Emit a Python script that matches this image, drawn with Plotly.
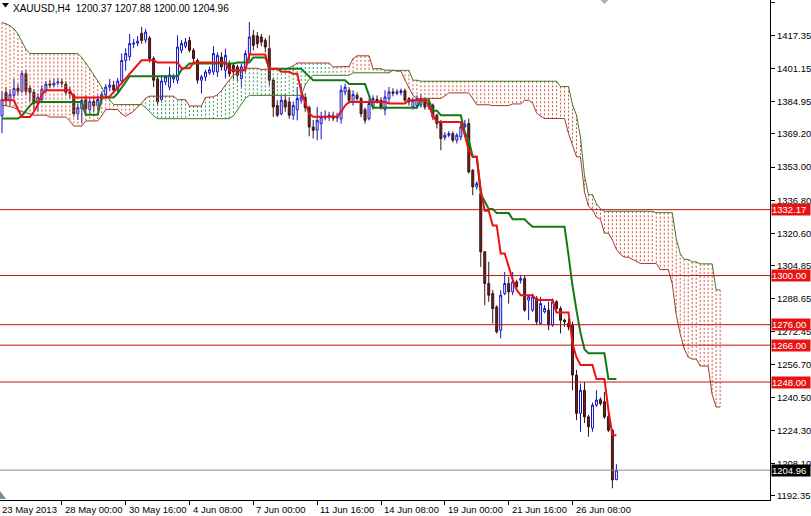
import plotly.graph_objects as go

# ---------------- data ----------------
open_ = [1378.0,1389.5,1385.6,1388.0,1391.3,1390.0,1398.6,1391.5,1389.5,1384.0,
 1386.0,1390.5,1393.5,1393.0,1394.0,1394.5,1393.5,1389.5,1388.0,1379.0,
 1381.5,1386.0,1381.0,1385.0,1383.0,1386.0,1388.0,1392.0,1393.0,1390.5,
 1395.0,1405.0,1407.0,1413.0,1413.5,1418.3,1415.0,1416.0,1406.0,1396.0,
 1386.0,1394.5,1392.0,1396.0,1395.4,1410.0,1412.0,1414.9,1410.0,1405.0,
 1395.4,1397.0,1399.0,1399.5,
 1399.4,1406.7,1400.2,1403.5,1402.7,1401.9,
 1396.2,1401.0,1408.4,1417.3,1417.0,1416.5,1414.9,1410.8,1395.4,1383.0,
 1379.0,1385.6,1384.8,1378.3,1381.0,1385.6,1387.0,1382.0,1372.5,1371.0,
 1374.2,1377.0,1377.4,1378.0,1377.0,1376.5,1389.6,1390.5,1384.8,1388.0,
 1386.4,1381.0,1376.6,1382.3,1386.0,1385.6,1381.0,1386.4,1389.7,1389.0,
 1389.4,1390.2,1386.4,1382.3,1383.0,1383.2,1385.6,1382.3,1383.2,1378.3,
 1375.0,1367.5,1368.5,1369.3,1366.1,1367.7,1372.6,1374.2,1351.4,1343.3,
 1340.0,1311.6,1296.1,1291.2,1284.7,1273.3,1291.2,1296.1,1292.0,1296.9,
 1297.7,1298.5,1288.0,1283.1,1288.8,1276.6,1282.3,1283.1,1275.8,1287.2,
 1283.9,1278.2,1276.6,1275.8,1251.4,1232.7,1244.0,1231.0,1225.5,1236.7,
 1239.5,1238.4,1231.0,1224.5,1200.37]

high = [1390.0,1392.0,1391.0,1396.0,1393.5,1400.0,1400.5,1393.0,1391.0,1389.0,
 1393.0,1395.0,1395.5,1396.0,1396.5,1396.0,1395.0,1392.0,1389.0,1384.0,
 1386.5,1388.0,1387.0,1387.0,1388.0,1390.0,1393.5,1396.0,1395.0,1396.5,
 1408.4,1411.0,1418.0,1415.5,1417.0,1421.4,1420.5,1417.0,1407.0,1397.0,
 1397.8,1398.0,1402.0,1398.5,1417.3,1415.0,1416.0,1416.5,1411.0,1406.0,
 1398.0,1400.5,1402.0,1412.0,
 1409.0,1409.0,1410.8,1405.0,1404.0,1403.0,
 1403.5,1410.0,1423.8,1420.0,1419.0,1418.0,1416.0,1417.3,1396.5,1385.6,
 1388.0,1388.5,1387.2,1385.0,1392.1,1392.9,1389.0,1383.0,1376.0,1382.3,
 1380.0,1380.7,1380.0,1380.0,1379.5,1392.9,1393.7,1392.0,1390.5,1389.5,
 1387.2,1382.0,1386.4,1388.0,1388.0,1387.0,1390.5,1392.1,1391.5,1391.0,
 1391.3,1391.3,1387.2,1387.0,1388.0,1388.5,1387.0,1386.0,1384.0,1379.0,
 1376.0,1370.0,1370.5,1370.5,1369.5,1374.2,1376.0,1376.6,1352.0,1346.0,
 1343.3,1312.0,1306.7,1292.9,1285.5,1292.9,1301.8,1299.4,1301.8,1298.0,
 1300.2,1300.0,1290.4,1291.2,1290.0,1289.6,1285.5,1287.2,1288.8,1288.0,
 1285.0,1279.0,1279.0,1277.4,1254.0,1247.3,1248.0,1232.0,1238.0,1244.0,
 1240.5,1243.2,1234.3,1225.0,1207.88]

low = [1369.5,1383.0,1383.0,1386.4,1388.0,1389.0,1388.0,1385.0,1381.0,1380.0,
 1385.0,1389.0,1391.5,1392.0,1393.0,1392.0,1388.0,1386.5,1377.5,1376.0,
 1374.2,1378.0,1378.5,1380.0,1381.0,1384.0,1386.5,1390.0,1389.0,1389.0,
 1393.7,1400.0,1405.0,1411.0,1412.0,1413.2,1413.5,1404.0,1392.0,1383.0,
 1384.5,1393.0,1390.5,1394.0,1393.7,1408.5,1411.0,1409.0,1404.0,1393.7,
 1388.9,1395.0,1398.0,1398.0,
 1397.0,1400.0,1396.2,1397.0,1396.0,1395.0,
 1392.1,1399.0,1405.0,1410.0,1411.0,1412.0,1409.0,1393.0,1377.4,1377.4,
 1378.3,1380.0,1376.6,1376.0,1375.8,1384.0,1380.0,1368.0,1366.9,1366.0,
 1366.5,1375.8,1375.5,1375.5,1375.0,1374.2,1388.0,1384.0,1383.0,1385.0,
 1377.4,1374.2,1375.8,1381.0,1384.0,1381.0,1378.3,1384.0,1387.5,1388.0,
 1388.0,1384.8,1383.0,1381.0,1381.5,1382.0,1381.0,1381.0,1376.0,1371.8,
 1361.2,1366.0,1367.5,1365.0,1364.5,1366.1,1371.8,1349.8,1339.2,1342.0,
 1304.2,1285.5,1287.2,1276.6,1271.7,1269.3,1290.4,1286.3,1290.4,1293.0,
 1296.1,1282.3,1278.2,1282.3,1275.8,1275.8,1281.5,1273.3,1275.0,1282.0,
 1271.7,1275.0,1273.3,1244.0,1229.4,1223.7,1228.0,1221.3,1223.7,1235.8,
 1236.5,1230.0,1223.6,1196.1,1200.00]

close = [1386.0,1385.6,1388.5,1391.3,1390.0,1398.6,1390.0,1389.5,1384.0,1387.0,
 1391.0,1393.5,1393.0,1394.0,1394.5,1394.0,1389.5,1389.0,1379.0,1382.0,
 1385.5,1381.5,1385.0,1383.0,1386.0,1388.5,1392.0,1393.0,1390.5,1395.0,
 1405.0,1408.4,1413.3,1413.5,1414.5,1414.8,1418.9,1406.0,1395.4,1384.8,
 1395.0,1397.0,1398.0,1397.0,1411.6,1413.3,1414.0,1410.0,1406.0,1395.4,
 1397.0,1399.4,1400.5,1408.4,
 1407.5,1401.9,1407.5,1398.6,1399.4,1397.8,
 1401.9,1408.4,1416.5,1412.4,1413.2,1414.0,1411.6,1395.4,1382.3,1378.3,
 1385.6,1382.3,1378.3,1383.0,1386.4,1387.2,1382.0,1372.5,1371.0,1375.8,
 1377.4,1377.4,1378.3,1376.8,1377.8,1390.5,1392.0,1385.6,1388.5,1386.4,
 1379.0,1375.8,1384.0,1386.4,1385.0,1382.3,1387.2,1389.7,1389.0,1389.7,
 1390.2,1385.6,1384.8,1385.6,1386.4,1386.4,1382.3,1384.0,1377.5,1374.2,
 1366.9,1368.5,1369.3,1366.1,1368.5,1372.6,1373.9,1350.6,1343.3,1344.9,
 1311.6,1296.1,1290.4,1283.9,1272.5,1290.4,1296.1,1292.0,1296.9,1294.5,
 1298.5,1283.1,1289.6,1289.6,1277.4,1286.3,1283.9,1275.8,1287.2,1283.9,
 1278.2,1277.4,1274.9,1251.4,1232.7,1244.0,1231.0,1226.2,1236.7,1239.2,
 1237.5,1231.0,1224.5,1200.2,1204.96]

tenkan = [1385.6,1385.6,1385.6,1385.6,1381.0,1377.4,1377.4,1377.4,1380.0,1383.5,
 1388.5,1390.5,1390.5,1390.5,1390.5,1390.5,1390.5,1390.5,1387.0,1387.0,
 1387.0,1387.0,1387.0,1387.0,1387.0,1387.0,1387.0,1387.5,1389.5,1391.5,
 1394.0,1396.3,1398.5,1400.2,1402.5,1405.1,1405.1,1405.1,1405.1,1404.0,
 1404.0,1404.0,1404.0,1404.0,1404.0,1401.2,1401.2,1401.2,1404.0,1404.0,
 1404.0,1404.0,1404.0,1404.0,1404.0,1404.0,1404.0,1400.2,1400.2,1400.2,
 1400.2,1400.2,1408.0,1408.0,1408.0,1408.0,1408.0,1401.0,1401.0,1401.0,
 1399.5,1399.5,1399.5,1398.5,1398.5,1390.0,1384.0,1379.0,1377.5,1377.5,
 1377.5,1377.5,1377.5,1377.5,1377.5,1380.0,1383.0,1384.8,1384.8,1384.8,
 1384.8,1384.8,1384.8,1384.8,1384.8,1384.8,1384.8,1384.0,1384.0,1384.0,
 1384.0,1384.0,1385.6,1385.6,1385.6,1385.6,1385.6,1383.0,1378.0,1375.0,
 1375.0,1375.0,1375.0,1375.0,1375.0,1375.0,1368.5,1361.2,1358.0,1358.0,
 1341.7,1331.6,1331.6,1324.5,1324.5,1310.8,1310.8,1304.0,1298.0,1293.0,
 1290.4,1290.4,1290.4,1290.4,1288.0,1288.0,1288.0,1288.0,1288.0,1282.0,
 1282.0,1282.0,1282.0,1266.8,1260.0,1256.3,1256.3,1256.3,1256.3,1249.5,
 1249.5,1249.5,1234.3,1222.0,1222.0]

kijun = [1376.7,1376.7,1376.7,1376.7,1376.7,1378.0,1380.5,1383.0,1384.7,1384.7,
 1384.7,1384.7,1384.7,1384.7,1384.7,1384.7,1384.7,1384.7,1384.7,1384.7,
 1384.7,1378.5,1378.5,1378.5,1378.5,1387.0,1387.0,1387.0,1387.0,1389.0,
 1392.0,1394.5,1397.3,1397.3,1397.3,1397.3,1397.3,1397.3,1397.3,1397.3,
 1397.3,1397.3,1397.3,1397.3,1397.3,1400.5,1401.7,1403.5,1403.5,1403.5,
 1403.5,1403.5,1403.5,1403.5,1403.5,1403.5,1403.5,1403.5,1403.5,1404.0,
 1404.0,1404.0,1404.0,1406.5,1406.5,1406.5,1406.5,1401.0,1401.0,1401.0,
 1401.0,1401.0,1401.0,1401.0,1401.0,1401.0,1399.0,1397.0,1395.4,1395.4,
 1395.4,1395.4,1395.4,1395.4,1395.4,1395.4,1395.4,1393.5,1393.5,1393.5,
 1393.5,1393.5,1388.0,1382.0,1382.0,1382.0,1382.0,1382.0,1382.0,1382.0,
 1382.0,1382.0,1382.0,1382.0,1382.0,1385.6,1385.6,1385.6,1380.5,1380.5,
 1378.3,1378.3,1378.3,1378.3,1378.3,1378.3,1370.0,1366.0,1358.0,1358.0,
 1340.0,1336.0,1332.5,1332.5,1330.5,1330.5,1330.5,1330.5,1327.5,1327.5,
 1327.5,1327.5,1325.5,1323.8,1323.8,1323.8,1323.8,1323.8,1323.8,1323.8,
 1323.8,1323.8,1310.0,1295.0,1283.0,1272.0,1264.0,1262.0,1262.0,1262.0,
 1262.0,1262.0,1249.5,1249.5,1249.5]

span_a = [1383.0,1383.0,1382.5,1382.0,1381.0,1380.0,1379.5,1379.0,1378.3,1378.3,
 1378.3,1378.3,1377.4,1377.4,1377.4,1377.4,1377.4,1375.5,1373.0,1373.0,
 1373.0,1375.5,1375.5,1375.5,1375.5,1378.0,1381.1,1381.1,1381.1,1381.1,
 1378.9,1377.7,1379.0,1380.2,1382.4,1384.1,1386.6,1387.6,1387.6,1387.6,
 1387.6,1387.6,1387.6,1387.6,1385.9,1385.9,1385.9,1382.8,1382.8,1382.8,
 1382.8,1387.0,1387.0,1387.3,1388.3,1390.3,1393.0,1395.4,1397.9,1398.8,
 1399.9,1401.2,1401.2,1401.2,1401.2,1400.7,1400.7,1400.7,1400.7,1400.7,
 1400.7,1400.9,1401.5,1402.4,1403.8,1403.8,1403.8,1403.8,1403.8,1403.8,
 1403.8,1403.8,1403.8,1401.9,1401.9,1402.1,1402.1,1402.1,1406.0,1407.3,
 1407.3,1407.3,1407.3,1401.0,1401.0,1401.0,1400.3,1400.3,1400.3,1399.8,
 1399.8,1395.5,1391.5,1388.0,1386.5,1386.5,1386.5,1386.5,1386.5,1386.5,
 1386.5,1387.7,1389.2,1389.2,1389.2,1389.2,1389.2,1389.2,1386.4,1383.4,
 1383.4,1383.4,1383.4,1383.0,1383.0,1383.0,1383.0,1383.0,1383.8,1383.8,
 1383.8,1385.6,1385.6,1384.3,1379.3,1377.8,1376.7,1376.7,1376.7,1376.7,
 1376.7,1376.7,1369.3,1363.6,1358.0,1358.0,1340.9,1333.8,1332.1,1328.5,
 1327.5,1320.7,1320.7,1317.3,1312.8,1310.3,1309.0,1309.0,1307.9,1307.1,
 1305.9,1305.9,1305.9,1305.9,1305.9,1302.9,1302.9,1302.9,1296.0,1280.9,
 1271.5,1264.2,1260.2,1259.2,1259.2,1255.8,1255.8,1255.8,1241.9,1235.8,
 1235.8]

span_b = [1423.5,1423.0,1422.0,1420.5,1418.0,1414.0,1410.5,1408.4,1408.4,1408.4,
 1408.4,1408.4,1408.4,1408.4,1408.4,1408.4,1408.4,1408.4,1408.4,1408.4,
 1406.5,1404.0,1401.0,1398.0,1395.0,1392.0,1388.0,1386.0,1383.5,1383.5,
 1383.5,1383.5,1383.5,1383.5,1383.5,1383.5,1382.0,1380.0,1378.0,1376.6,
 1376.6,1376.6,1376.6,1376.6,1376.6,1376.6,1376.6,1376.6,1376.6,1376.6,
 1376.6,1376.6,1376.6,1376.6,1376.6,1376.6,1376.6,1376.6,1378.0,1381.0,
 1384.0,1386.5,1388.0,1388.0,1388.0,1388.0,1388.0,1388.0,1388.0,1388.0,
 1388.0,1388.0,1388.0,1388.0,1388.0,1388.0,1393.0,1396.0,1397.8,1397.8,
 1397.8,1397.8,1397.8,1397.8,1397.8,1397.8,1397.8,1397.8,1399.0,1399.0,
 1399.0,1399.0,1399.0,1399.0,1399.0,1399.0,1399.0,1399.0,1400.2,1400.2,
 1400.2,1400.2,1400.2,1395.4,1395.4,1394.9,1394.9,1394.9,1394.9,1394.9,
 1394.9,1394.9,1394.9,1394.9,1394.9,1394.9,1394.9,1394.9,1394.9,1394.9,
 1394.9,1394.9,1394.9,1394.9,1394.9,1394.9,1394.9,1394.9,1394.9,1394.9,
 1394.9,1394.9,1394.9,1394.9,1394.9,1394.9,1394.9,1394.9,1394.9,1394.9,
 1392.3,1392.3,1392.3,1383.5,1378.3,1367.6,1348.9,1339.5,1339.5,1335.0,
 1332.6,1331.4,1331.4,1331.4,1331.4,1331.4,1331.4,1331.4,1331.4,1331.4,
 1331.4,1331.4,1331.4,1331.4,1330.7,1330.7,1330.7,1330.7,1330.7,1318.0,
 1310.7,1307.9,1307.9,1306.7,1306.7,1305.7,1305.7,1305.7,1305.7,1293.0,
 1293.0]

level_prices = [1332.17, 1300.00, 1276.00, 1266.00, 1248.00]
bid_price = 1204.96
y_ticks = [1433.10, 1417.35, 1401.15, 1384.95, 1369.20, 1353.00, 1336.80, 1320.60,
           1304.85, 1288.65, 1272.45, 1256.70, 1240.50, 1224.30, 1208.10, 1192.35]
x_tick_bars = [15, 31, 47, 63, 79, 95, 111, 127, 143]
x_tick_text = ["28 May 00:00", "30 May 16:00", "4 Jun 08:00", "7 Jun 00:00",
               "11 Jun 16:00", "14 Jun 08:00", "19 Jun 00:00", "21 Jun 16:00",
               "26 Jun 08:00"]
first_label = "23 May 2013"
title_text = "XAUUSD,H4  1200.37 1207.88 1200.00 1204.96"
red_cloud_override = range(86, 93)

# ---------------- figure ----------------
W, H = 811, 516
PW, PH = 772, 500
FONT = "Liberation Sans"
FS = 9.5

def px(x):
    return x / PW

def py(y):
    return 1 - y / PH

bars = list(range(len(close)))
cloud_x = list(range(len(span_a)))

fig = go.Figure()

fig.add_trace(go.Candlestick(
    x=bars, open=open_, high=high, low=low, close=close,
    increasing=dict(line=dict(color="#1010c8", width=1), fillcolor="#ffffff"),
    decreasing=dict(line=dict(color="#3a1212", width=1), fillcolor="#6e2020"),
    whiskerwidth=0, showlegend=False, hoverinfo="skip"))

hx_r, hy_r, hx_g, hy_g = [], [], [], []
for i, (a, b) in enumerate(zip(span_a, span_b)):
    top, bot = max(a, b), min(a, b)
    if b > a or i in red_cloud_override:
        hx_r += [i, i, None]; hy_r += [top, bot, None]
    else:
        hx_g += [i, i, None]; hy_g += [top, bot, None]

fig.add_trace(go.Scatter(x=hx_r, y=hy_r, mode="lines", connectgaps=False,
                         line=dict(color="#d4553a", width=1, dash="2px,2px"),
                         showlegend=False, hoverinfo="skip"))
fig.add_trace(go.Scatter(x=hx_g, y=hy_g, mode="lines", connectgaps=False,
                         line=dict(color="#3c9a62", width=1, dash="2px,2px"),
                         showlegend=False, hoverinfo="skip"))

fig.add_trace(go.Scatter(x=cloud_x, y=span_a, mode="lines",
                         line=dict(color="#a23a28", width=1),
                         showlegend=False, hoverinfo="skip"))
fig.add_trace(go.Scatter(x=cloud_x, y=span_b, mode="lines",
                         line=dict(color="#3f7a2a", width=1),
                         showlegend=False, hoverinfo="skip"))
fig.add_trace(go.Scatter(x=bars, y=kijun, mode="lines",
                         line=dict(color="#137a13", width=2),
                         showlegend=False, hoverinfo="skip"))
fig.add_trace(go.Scatter(x=bars, y=tenkan, mode="lines",
                         line=dict(color="#ee1111", width=2),
                         showlegend=False, hoverinfo="skip"))

shapes = []
for v in level_prices:
    shapes.append(dict(type="line", xref="paper", yref="y", x0=0, x1=1, y0=v, y1=v,
                       line=dict(color="#c01010", width=1)))
shapes.append(dict(type="line", xref="paper", yref="y", x0=0, x1=1, y0=bid_price,
                   y1=bid_price, line=dict(color="#7890a0", width=1)))
# small chart markers
shapes.append(dict(type="path", xref="paper", yref="paper",
                   path=f"M {px(2)},{py(3)} L {px(9)},{py(3)} L {px(5.5)},{py(7.5)} Z",
                   fillcolor="#000000", line=dict(width=0)))
shapes.append(dict(type="path", xref="paper", yref="paper",
                   path=f"M {px(602)},{py(0)} L {px(610)},{py(0)} L {px(606)},{py(4)} Z",
                   fillcolor="#b0b0b0", line=dict(width=0)))
shapes.append(dict(type="path", xref="paper", yref="paper",
                   path=f"M {px(0)},{py(491)} L {px(6)},{py(499)} L {px(0)},{py(499)} Z",
                   fillcolor="#6f8f9f", line=dict(width=0)))

annotations = []
annotations.append(dict(xref="paper", yref="paper", x=0, y=1, xshift=11, yshift=-1,
                        xanchor="left", yanchor="top", text=title_text, showarrow=False,
                        font=dict(family=FONT, size=FS + 0.5, color="#000000")))
annotations.append(dict(xref="x", yref="paper", x=-0.5, y=0, yshift=-2, xanchor="left",
                        yanchor="top", text=first_label, showarrow=False,
                        font=dict(family=FONT, size=FS, color="#000000")))
for b, t in zip(x_tick_bars, x_tick_text):
    annotations.append(dict(xref="x", yref="paper", x=b, y=0, xshift=1, yshift=-2,
                            xanchor="left", yanchor="top", text=t, showarrow=False,
                            font=dict(family=FONT, size=FS, color="#000000")))
for v in level_prices:
    annotations.append(dict(xref="paper", yref="y", x=1, y=v, xshift=1, xanchor="left",
                            yanchor="middle", text=f"{v:.2f}", showarrow=False,
                            bgcolor="#e81414", borderpad=0, width=38, height=11,
                            align="left",
                            font=dict(family=FONT, size=FS, color="#ffffff")))
annotations.append(dict(xref="paper", yref="y", x=1, y=bid_price, xshift=1, xanchor="left",
                        yanchor="middle", text=f"{bid_price:.2f}", showarrow=False,
                        bgcolor="#000000", borderpad=0, width=38, height=11, align="left",
                        font=dict(family=FONT, size=FS, color="#ffffff")))

fig.update_layout(
    width=W, height=H,
    margin=dict(l=0, r=W - PW, t=0, b=H - PH),
    paper_bgcolor="#ffffff", plot_bgcolor="#ffffff",
    showlegend=False, shapes=shapes, annotations=annotations,
    font=dict(family=FONT, size=FS, color="#000000"),
    xaxis=dict(range=[-0.5, 192.5], showgrid=False, zeroline=False, showline=True,
               linecolor="#000000", linewidth=1, ticks="outside", ticklen=4,
               tickcolor="#000000", tickvals=x_tick_bars, showticklabels=False,
               rangeslider=dict(visible=False), fixedrange=True),
    yaxis=dict(range=[1190.39, 1434.56], side="right", showgrid=False, zeroline=False,
               showline=True, linecolor="#000000", linewidth=1, ticks="outside",
               ticklen=4, tickcolor="#000000", tickvals=y_ticks,
               ticktext=[f"{v:.2f}" for v in y_ticks],
               tickfont=dict(family=FONT, size=FS, color="#000000"), fixedrange=True),
)

fig.write_html("out.html", config={"displayModeBar": False})

# remove the browser's default page margin so the chart sits at the window's corner
with open("out.html", "r", encoding="utf-8") as f:
    html = f.read()
html = html.replace("<head>", "<head><style>html,body{margin:0;padding:0;overflow:hidden;}</style>", 1)
with open("out.html", "w", encoding="utf-8") as f:
    f.write(html)
